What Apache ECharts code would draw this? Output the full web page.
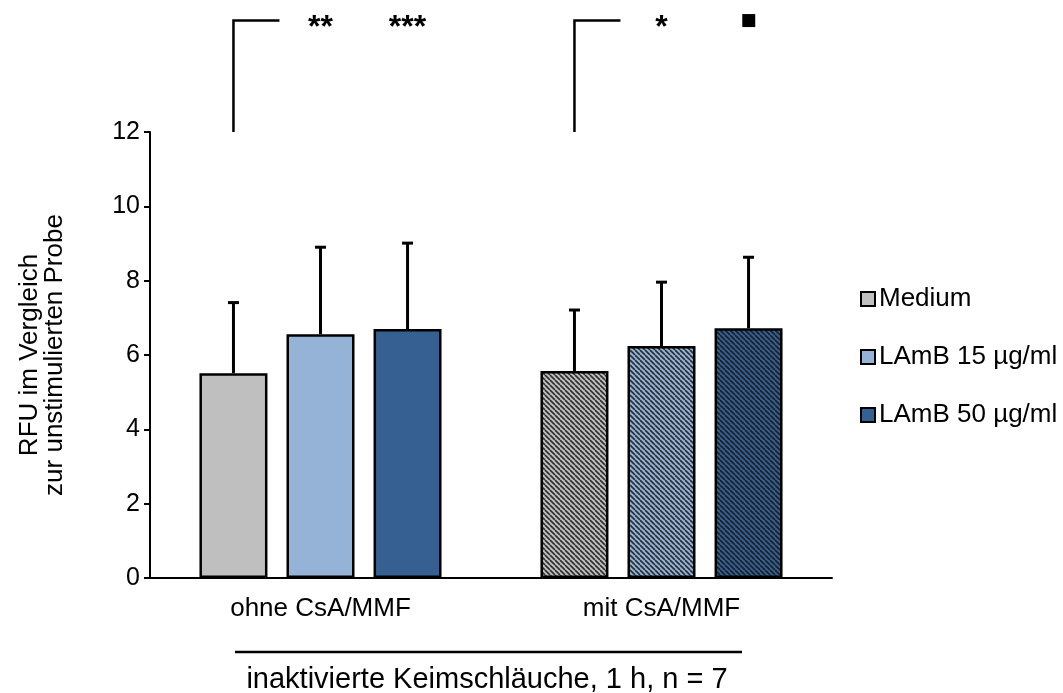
<!DOCTYPE html>
<html>
<head>
<meta charset="utf-8">
<script src="https://cdn.jsdelivr.net/npm/echarts@6/dist/echarts.min.js"></script>
<style>
html,body{margin:0;padding:0;background:#fff;}
#chart{width:1063px;height:693px;}
</style>
</head>
<body>
<div id="chart"></div>
<script>
// ---- data ----
const categories = ['ohne CsA/MMF', 'mit CsA/MMF'];
const seriesNames = ['Medium', 'LAmB 15 µg/ml', 'LAmB 50 µg/ml'];
const medium = [5.51, 5.57];
const lamb15 = [6.56, 6.24];
const lamb50 = [6.70, 6.72];
const mediumErr = [1.90, 1.64];
const lamb15Err = [2.34, 1.72];
const lamb50Err = [2.31, 1.91];
const sigLabels = [['**', '***'], ['*', '■']];
const yMin = 0, yMax = 12, yInterval = 2;
const groupTitle = 'inaktivierte Keimschläuche, 1 h, n = 7';
const yName = 'RFU im Vergleich\nzur unstimulierten Probe';

// ---- style ----
const FONT = "'Liberation Sans', Arial, sans-serif";
const FS = 26;
const colors = ['#BFBFBF', '#95B3D7', '#366092'];
const hatchedCat = 1;
const BAR_W = 68;
const BAR_GAP = 0.28;

function hatch(base) {
  const s = 5;
  const c = document.createElement('canvas');
  c.width = s; c.height = s;
  const g = c.getContext('2d');
  g.fillStyle = base;
  g.fillRect(0, 0, s, s);
  g.strokeStyle = 'rgba(20,20,20,0.85)';
  g.lineWidth = 1.6;
  for (let k = -1; k <= 1; k++) {
    g.beginPath();
    g.moveTo(k * s, 0);
    g.lineTo(k * s + s, s);
    g.stroke();
  }
  return { image: c, repeat: 'repeat' };
}

const values = [medium, lamb15, lamb50];
const errs = [mediumErr, lamb15Err, lamb50Err];

const chart = echarts.init(document.getElementById('chart'));

const barSeries = values.map((vals, i) => ({
  name: seriesNames[i],
  type: 'bar',
  barWidth: BAR_W,
  barGap: (BAR_GAP * 100) + '%',
  itemStyle: { color: colors[i], borderColor: '#000', borderWidth: 2.5 },
  data: vals.map((v, c) => c === hatchedCat
    ? { value: v, itemStyle: { color: hatch(colors[i]) } }
    : v),
  z: 2
}));

const step = BAR_W * (1 + BAR_GAP);

const errSeries = values.map((vals, i) => ({
  type: 'custom',
  name: 'err' + i,
  clip: false,
  z: 5,
  data: vals.map((v, c) => [c, v, errs[i][c]]),
  renderItem: function (params, api) {
    const cat = api.value(0);
    const v = api.value(1);
    const e = api.value(2);
    const b = api.coord([cat, v]);
    const t = api.coord([cat, v + e]);
    const x = b[0] + (i - 1) * step;
    return {
      type: 'group',
      children: [
        { type: 'line', shape: { x1: x, y1: b[1], x2: x, y2: t[1] }, style: { stroke: '#000', lineWidth: 3 } },
        { type: 'line', shape: { x1: x - 5.5, y1: t[1], x2: x + 5.5, y2: t[1] }, style: { stroke: '#000', lineWidth: 3 } }
      ]
    };
  }
}));

const sigSeries = {
  type: 'custom',
  name: 'sig',
  clip: false,
  z: 5,
  data: categories.map((c, idx) => [idx]),
  renderItem: function (params, api) {
    const cat = api.value(0);
    const a = api.coord([cat, yMax]);
    const t = api.coord([cat, yMax * 1.25]);
    const x0 = a[0] - step;
    const labels = sigLabels[params.dataIndex];
    const children = [
      { type: 'polyline', shape: { points: [[x0, a[1]], [x0, t[1]], [x0 + 46, t[1]]] }, style: { stroke: '#000', lineWidth: 2.5, fill: null } }
    ];
    labels.forEach((lab, k) => {
      const isSq = lab === '■';
      children.push({
        type: 'text',
        x: x0 + (k + 1) * step,
        y: isSq ? t[1] : t[1] + 8,
        style: {
          text: lab,
          fontFamily: isSq ? "'DejaVu Sans', sans-serif" : FONT,
          fontSize: isSq ? 17 : 32,
          fontWeight: isSq ? 'normal' : 'bold',
          fill: '#000',
          align: 'center',
          verticalAlign: 'middle'
        }
      });
    });
    return { type: 'group', children: children };
  }
};

const option = {
  backgroundColor: '#fff',
  animation: false,
  textStyle: { fontFamily: FONT },
  grid: { left: 150, right: 231, top: 132, bottom: 115, containLabel: false },
  legend: {
    orient: 'vertical',
    left: 855,
    top: 281,
    itemWidth: 14,
    itemHeight: 14,
    itemGap: 32,
    icon: 'rect',
    data: seriesNames,
    itemStyle: { borderColor: '#000', borderWidth: 2 },
    textStyle: { fontFamily: FONT, fontSize: FS, color: '#000', padding: [0, 0, 0, -1] }
  },
  xAxis: {
    type: 'category',
    data: categories,
    axisLine: { lineStyle: { color: '#000', width: 2 } },
    axisTick: { show: false },
    axisLabel: { fontFamily: FONT, fontSize: FS, color: '#000', margin: 18 },
    splitLine: { show: false }
  },
  yAxis: {
    type: 'value',
    min: yMin,
    max: yMax,
    interval: yInterval,
    name: yName,
    nameLocation: 'middle',
    nameRotate: 90,
    nameGap: 83,
    nameTextStyle: { fontFamily: FONT, fontSize: FS, color: '#000', lineHeight: 25 },
    axisLine: { show: true, lineStyle: { color: '#000', width: 2 } },
    axisTick: { show: true, length: 6, lineStyle: { color: '#000', width: 2 } },
    axisLabel: { fontFamily: FONT, fontSize: 25, color: '#000', margin: 10 },
    splitLine: { show: false }
  },
  graphic: [
    { type: 'line', shape: { x1: 235, y1: 652, x2: 742, y2: 652 }, style: { stroke: '#000', lineWidth: 2.5 } },
    { type: 'text', x: 487, y: 680, style: { text: groupTitle, fontFamily: FONT, fontSize: 29, fill: '#000', align: 'center', verticalAlign: 'middle' } }
  ],
  series: [...barSeries, ...errSeries, sigSeries]
};

chart.setOption(option);
</script>
</body>
</html>
